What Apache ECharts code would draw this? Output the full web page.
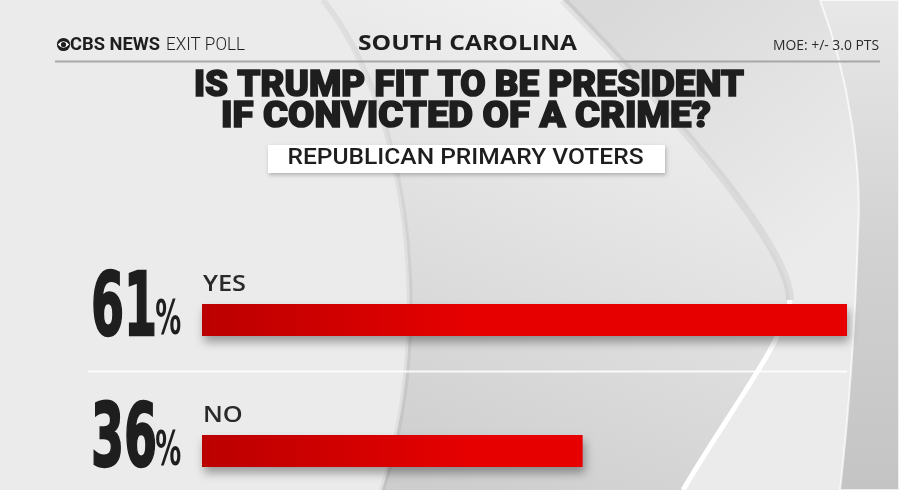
<!DOCTYPE html>
<html>
<head>
<meta charset="utf-8">
<script src="https://cdn.jsdelivr.net/npm/echarts/dist/echarts.min.js"></script>
<style>
html, body { margin: 0; padding: 0; background: #ebebeb; }
#chart { width: 899px; height: 490px; }
</style>
</head>
<body>
<div id="chart"></div>
<script>
// ---- data ----
const categories = ['YES', 'NO'];
const values = [61, 36];
const brandBold = 'CBS NEWS';
const brandLight = 'EXIT POLL';
const stateName = 'SOUTH CAROLINA';
const moeText = 'MOE: +/- 3.0 PTS';
const titleLines = ['IS TRUMP FIT TO BE PRESIDENT', 'IF CONVICTED OF A CRIME?'];
const subtitle = 'REPUBLICAN PRIMARY VOTERS';

// ---- helpers ----
const measureCtx = document.createElement('canvas').getContext('2d');
function textWidth(font, s) { measureCtx.font = font; return measureCtx.measureText(s).width; }
function fit(font, s, w) { return w / textWidth(font, s); }

const NUM_FONT = 'bold 88px "DejaVu Sans"';
const PCT_FONT = 'bold 48px "DejaVu Sans"';
const NUM_SCALE = 0.54;
const INK = '#1e1e1e';

function txt(o) {
  const s = Object.assign({}, o.style);
  if (s.align) { s.textAlign = s.align; }
  if (s.verticalAlign) { s.textVerticalAlign = s.verticalAlign; }
  o.style = s;
  return Object.assign({ type: 'text' }, o);
}

const F_BRAND_B = 'bold 18px Roboto';
const F_BRAND_L = '300 18px Roboto';
const F_STATE = 'bold 21px "Open Sans"';
const F_MOE = '14px "Open Sans"';
const F_TITLE = '900 37px Roboto';
const F_SUB = '500 22px Roboto';
const F_CAT = '600 22px "Open Sans"';
const CAT_SCALE = fit(F_CAT, categories[0], 43);

const chart = echarts.init(document.getElementById('chart'), null, { renderer: 'canvas' });

const barColor = {
  type: 'linear', x: 202, y: 0, x2: 470, y2: 0, global: true,
  colorStops: [{ offset: 0, color: '#bb0000' }, { offset: 1, color: '#e60000' }]
};

const bgShapes = [
  // area between crescent and right band
  { type: 'path', shape: { pathData: 'M563,0 C650,90 790,240 790,300 C785,340 730,410 683,490 L840,490 C848,420 855,330 858,233 C862,170 850,80 820,0 Z' },
    style: { fill: { type: 'linear', x: 600, y: 20, x2: 800, y2: 260, global: true,
      colorStops: [{ offset: 0, color: '#d9d9d9' }, { offset: 1, color: '#ebebeb' }] } } },
  // crescent
  { type: 'path', shape: { pathData: 'M323,0 C410,110 435,330 382,490 L683,490 C730,410 785,340 790,300 C790,240 650,90 563,0 Z' },
    style: { fill: { type: 'linear', x: 620, y: 0, x2: 430, y2: 490, global: true,
      colorStops: [{ offset: 0, color: '#f2f2f2' }, { offset: 0.45, color: '#e2e2e2' }, { offset: 1, color: '#cdcdcd' }] } } },
  { type: 'path', shape: { pathData: 'M323,0 C410,110 435,330 382,490' },
    style: { fill: null, stroke: 'rgba(0,0,0,0.05)', lineWidth: 6 } },
  { type: 'path', shape: { pathData: 'M683,490 C730,410 785,340 790,300' },
    style: { fill: null, stroke: '#ffffff', lineWidth: 5 } },
  { type: 'path', shape: { pathData: 'M790,300 C790,240 650,90 563,0' },
    style: { fill: null, stroke: 'rgba(0,0,0,0.06)', lineWidth: 8 } },
  // right band
  { type: 'path', shape: { pathData: 'M820,0 C850,80 862,170 858,233 C855,330 848,420 840,490 L899,490 L899,0 Z' },
    style: { fill: { type: 'linear', x: 0, y: 0, x2: 0, y2: 490, global: true,
      colorStops: [{ offset: 0, color: '#e8e8e8' }, { offset: 0.5, color: '#d2d2d2' }, { offset: 1, color: '#c4c4c4' }] },
      stroke: 'rgba(255,255,255,0.7)', lineWidth: 2 } }
];

const logoShapes = [
  { type: 'circle', shape: { cx: 63.5, cy: 44.5, r: 6.6 }, style: { fill: INK } },
  { type: 'path', shape: { pathData: 'M57.8,44.5 Q63.5,38.2 69.2,44.5 Q63.5,50.8 57.8,44.5 Z' }, style: { fill: '#ffffff' } },
  { type: 'circle', shape: { cx: 63.5, cy: 44.5, r: 2.6 }, style: { fill: INK } }
];

const graphics = [
  { type: 'line', z: 3, shape: { x1: 55, y1: 61.5, x2: 880, y2: 61.5 }, style: { stroke: '#a8a8a8', lineWidth: 2 } },
  { type: 'line', z: 3, shape: { x1: 88, y1: 371.5, x2: 847, y2: 371.5 }, style: { stroke: 'rgba(255,255,255,0.85)', lineWidth: 2 } },
  txt({ z: 5, x: 70, y: 45, scaleX: fit(F_BRAND_B, brandBold, 90),
    style: { text: brandBold, font: F_BRAND_B, fill: INK, align: 'left', verticalAlign: 'middle' } }),
  txt({ z: 5, x: 166, y: 45, scaleX: fit(F_BRAND_L, brandLight, 79),
    style: { text: brandLight, font: F_BRAND_L, fill: INK, align: 'left', verticalAlign: 'middle' } }),
  txt({ z: 5, x: 467.5, y: 44.5, scaleX: fit(F_STATE, stateName, 219),
    style: { text: stateName, font: F_STATE, fill: INK, align: 'center', verticalAlign: 'middle' } }),
  txt({ z: 5, x: 879, y: 46, scaleX: fit(F_MOE, moeText, 106),
    style: { text: moeText, font: F_MOE, fill: '#2a2a2a', align: 'right', verticalAlign: 'middle' } }),
  txt({ z: 5, x: 469, y: 86.5, scaleX: fit(F_TITLE, titleLines[0], 550),
    style: { text: titleLines[0], font: F_TITLE, fill: INK, stroke: INK, lineWidth: 1.6, align: 'center', verticalAlign: 'middle' } }),
  txt({ z: 5, x: 466, y: 117.5, scaleX: fit(F_TITLE, titleLines[1], 490),
    style: { text: titleLines[1], font: F_TITLE, fill: INK, stroke: INK, lineWidth: 1.6, align: 'center', verticalAlign: 'middle' } }),
  { type: 'rect', z: 5, shape: { x: 268, y: 145, width: 397, height: 28 },
    style: { fill: '#ffffff', shadowBlur: 4, shadowColor: 'rgba(0,0,0,0.25)', shadowOffsetX: 1, shadowOffsetY: 2 } },
  txt({ z: 6, x: 465.5, y: 158.5, scaleX: fit(F_SUB, subtitle, 356),
    style: { text: subtitle, font: F_SUB, fill: INK, align: 'center', verticalAlign: 'middle' } })
];

const option = {
  backgroundColor: '#ebebeb',
  animation: false,
  grid: { left: 202, top: 320, width: 645, height: 131, containLabel: false },
  xAxis: { type: 'value', min: 0, max: Math.max.apply(null, values), show: false },
  yAxis: { type: 'category', data: categories, inverse: true, boundaryGap: false, show: false },
  graphic: { elements: graphics },
  series: [
    {
      type: 'custom', coordinateSystem: 'none', z: 1, silent: true,
      data: [0],
      renderItem: function () { return { type: 'group', children: bgShapes }; }
    },
    {
      type: 'custom', coordinateSystem: 'none', z: 9, silent: true,
      data: [0],
      renderItem: function () { return { type: 'group', children: logoShapes }; }
    },
    {
      type: 'bar', z: 4,
      data: values,
      barWidth: 32,
      itemStyle: {
        color: barColor,
        shadowBlur: 9, shadowOffsetY: 6, shadowOffsetX: 2, shadowColor: 'rgba(0,0,0,0.35)'
      }
    },
    {
      type: 'custom', z: 8,
      data: values.map(function (v, i) { return [v, i]; }),
      renderItem: function (params, api) {
        const i = params.dataIndex;
        const p = api.coord([0, i]);
        const cy = p[1];
        const x0 = p[0];
        const num = String(api.value(0));
        const wNum = textWidth(NUM_FONT, num) * NUM_SCALE;
        return {
          type: 'group',
          children: [
            txt({ x: 91, y: cy - 8, scaleX: NUM_SCALE,
              style: { text: num, x: 0, y: 0, font: NUM_FONT, fill: INK, stroke: INK, lineWidth: 2.4, align: 'left', verticalAlign: 'middle' } }),
            txt({ x: 91 + wNum - 2, y: cy + 2, scaleX: NUM_SCALE,
              style: { text: '%', x: 0, y: 0, font: PCT_FONT, fill: INK, align: 'left', verticalAlign: 'middle' } }),
            txt({ x: x0 + 1, y: cy - 35, scaleX: CAT_SCALE,
              style: { text: categories[i], x: 0, y: 0, font: F_CAT, fill: '#2a2a2a', align: 'left', verticalAlign: 'middle' } })
          ]
        };
      }
    }
  ]
};

chart.setOption(option);
</script>
</body>
</html>
